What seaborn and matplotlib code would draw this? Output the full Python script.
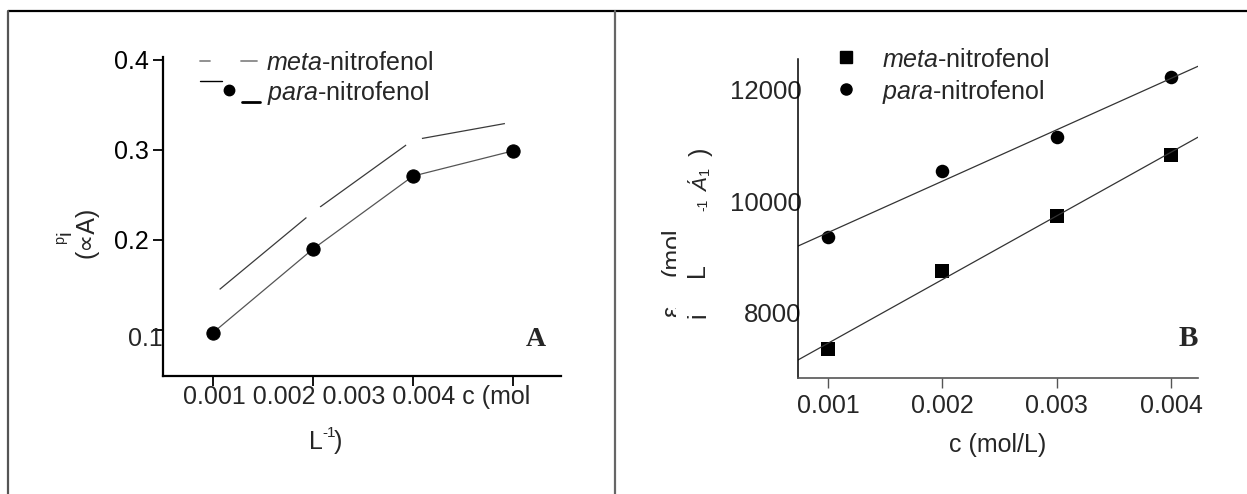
import numpy as np
import pandas as pd
import matplotlib
matplotlib.use("Agg")
import matplotlib.pyplot as plt
import seaborn as sns
from matplotlib.lines import Line2D
from matplotlib.transforms import ScaledTranslation, Bbox, TransformedBbox

# Panel A: peak current vs concentration
conc_a = [0.001, 0.002, 0.003, 0.004]
ip_meta = [0.139, 0.231, 0.311, 0.331]
ip_para = [0.097, 0.190, 0.271, 0.299]
yticks_a = [0.1, 0.2, 0.3, 0.4]
xrow_a = "0.001 0.002 0.003 0.004 c (mol"

# Panel B: molar absorptivity vs concentration
conc_b = [0.001, 0.002, 0.003, 0.004]
eps_meta = [7357, 8750, 9732, 10821]
eps_para = [9357, 10536, 11143, 12214]
yticks_b = [8000, 10000, 12000]
xticks_b = ["0.001", "0.002", "0.003", "0.004"]

W, H, DPI = 1247, 494, 100
FS = 18

sns.set_theme(style="white")
plt.rcParams["font.family"] = ["Liberation Sans", "DejaVu Sans"]
plt.rcParams["mathtext.fontset"] = "custom"
plt.rcParams["mathtext.rm"] = "Liberation Sans"
plt.rcParams["mathtext.it"] = "Liberation Sans:italic"
plt.rcParams["mathtext.bf"] = "Liberation Sans:bold"

fig = plt.figure(figsize=(W / DPI, H / DPI), dpi=DPI)
fig.patch.set_facecolor("white")


def fx(px):
    return px / W


def fy(py):
    return 1 - py / H


def box(l, t, r, b):
    return [fx(l), fy(b), fx(r) - fx(l), fy(t) - fy(b)]


def fline(xs, ys, **kw):
    fig.add_artist(Line2D([fx(v) for v in xs], [fy(v) for v in ys],
                          transform=fig.transFigure, **kw))


def ftext(x, y, s, **kw):
    return fig.text(fx(x), fy(y), s, **kw)


# table-like frame around the two panels
fline([8, W], [11, 11], color="black", lw=1.6, solid_capstyle="butt")
fline([8, 8], [11, H], color="#555555", lw=1.6)
fline([615, 615], [11, H], color="#666666", lw=1.6)

ax_a = fig.add_axes(box(163, 57, 561, 376))
ax_b = fig.add_axes(box(798, 59, 1198, 378))
for ax in (ax_a, ax_b):
    ax.set_facecolor("none")

# ---------------- Panel A ----------------
df_a = pd.DataFrame({"c": conc_a, "meta": ip_meta, "para": ip_para})
sns.lineplot(data=df_a, x="c", y="meta", ax=ax_a, color="#3a3a3a", lw=0.9,
             marker="o", markersize=12.5, markerfacecolor="white",
             markeredgecolor="white", markeredgewidth=0)
sns.lineplot(data=df_a, x="c", y="para", ax=ax_a, color="#555555", lw=0.9,
             marker="o", markersize=9.5, markerfacecolor="black",
             markeredgecolor="black", markeredgewidth=0.8)

ax_a.set_xlim(0.0005, 0.00448)
ax_a.set_ylim(0.0489, 0.4033)
ax_a.set_xticks(conc_a)
ax_a.set_xticklabels([])
ax_a.set_yticks(yticks_a)
ax_a.set_yticklabels(["" if v == 0.1 else f"{v:.1f}" for v in yticks_a])
ax_a.tick_params(axis="both", direction="out", length=7, width=1.3,
                 color="black", labelsize=FS, pad=3, labelcolor="black",
                 left=True, bottom=True)
ax_a.set_xlabel("")
ax_a.set_ylabel("")
for side in ("top", "right"):
    ax_a.spines[side].set_visible(False)
for side in ("left", "bottom"):
    ax_a.spines[side].set_color("black")
    ax_a.spines[side].set_linewidth(1.6)

# the 0.1 label sits lower and overlaps its tick
ax_a.text(0, 0.1, "0.1", fontsize=FS, ha="right", va="center",
          transform=ax_a.get_yaxis_transform()
          + ScaledTranslation(0, -9 / DPI, fig.dpi_scale_trans))

# x label row and unit line
ftext(183, 397, xrow_a, fontsize=FS, ha="left", va="center")
ftext(323, 442, "L", fontsize=FS, ha="right", va="center")
ftext(322, 433, "-1", fontsize=11, ha="left", va="center")
ftext(334, 442, ")", fontsize=FS, ha="left", va="center")

# y label fragments
ftext(87, 232, "(\u221dA)", fontsize=FS, rotation=90, ha="center", va="center")
ftext(67, 238, r"$^{\mathregular{p}}$i", fontsize=15, rotation=90, ha="center", va="center")

# key for panel A
fline([200, 210], [61, 61], color="#888888", lw=1.3)
fline([241, 257], [61, 61], color="#888888", lw=1.3)
ftext(266, 70, r"$\mathit{meta}$-nitrofenol", fontsize=FS, ha="left", va="baseline")
fline([200, 222], [81, 81], color="black", lw=1.0)
fig.add_artist(Line2D([fx(229)], [fy(90)], transform=fig.transFigure,
                      marker="o", markersize=7.5, color="black", ls=""))
fline([242, 260], [102, 102], color="black", lw=2.0)
ftext(267, 100, r"$\mathit{para}$-nitrofenol", fontsize=FS, ha="left", va="baseline")

ftext(536, 340, "A", fontsize=20, fontweight="bold", family="Liberation Serif",
      ha="center", va="center")

# ---------------- Panel B ----------------
df_b = pd.DataFrame({"c": conc_b, "meta": eps_meta, "para": eps_para})
ax_b.set_xlim(0.000738, 0.004236)
ax_b.set_ylim(6839, 12536)
sns.regplot(data=df_b, x="c", y="meta", ax=ax_b, ci=None, truncate=False,
            marker="s", scatter_kws=dict(s=88, color="black", linewidths=0, alpha=1),
            line_kws=dict(color="#333333", lw=0.9))
sns.regplot(data=df_b, x="c", y="para", ax=ax_b, ci=None, truncate=False,
            marker="o", scatter_kws=dict(s=95, color="black", linewidths=0, alpha=1),
            line_kws=dict(color="#333333", lw=0.9))
ax_b.set_xlim(0.000738, 0.004236)
ax_b.set_ylim(6839, 12536)
ax_b.set_xticks(conc_b)
ax_b.set_xticklabels(xticks_b)
ax_b.set_yticks(yticks_b)
ax_b.set_yticklabels([str(v) for v in yticks_b])
ax_b.tick_params(axis="x", direction="out", length=7, width=1.0, color="#555555",
                 labelsize=FS, pad=4.5, bottom=True)
ax_b.tick_params(axis="y", length=0, labelsize=18.5, pad=-2.5)
ax_b.set_xlabel("")
ax_b.set_ylabel("")
for side in ("top", "right"):
    ax_b.spines[side].set_visible(False)
ax_b.spines["left"].set_color("black")
ax_b.spines["left"].set_linewidth(1.1)
ax_b.spines["bottom"].set_color("#555555")
ax_b.spines["bottom"].set_linewidth(1.2)
ax_b.set_zorder(1)

ftext(998, 445, "c (mol/L)", fontsize=FS, ha="center", va="center")

# key for panel B
fig.add_artist(Line2D([fx(846)], [fy(57)], transform=fig.transFigure,
                      marker="s", markersize=8, color="black", ls=""))
fig.add_artist(Line2D([fx(846)], [fy(89)], transform=fig.transFigure,
                      marker="o", markersize=8, color="black", ls=""))
ftext(882, 67, r"$\mathit{meta}$-nitrofenol", fontsize=FS, ha="left", va="baseline")
ftext(882, 99, r"$\mathit{para}$-nitrofenol", fontsize=FS, ha="left", va="baseline")

ftext(1188, 338, "B", fontsize=21, fontweight="bold", family="Liberation Serif",
      ha="center", va="center")

# y label pieces for panel B (first line partly hidden)
clip = TransformedBbox(Bbox([[fx(600), 0], [fx(676), 1]]), fig.transFigure)
for s, yy in (("\u03b5", 311), ("(mol", 252)):
    t = ftext(672, yy, s, fontsize=FS, rotation=90, ha="center", va="center")
    t.set_clip_on(True)
    t.set_clip_box(clip)
ftext(698, 315, "i", fontsize=FS, rotation=90, ha="center", va="center")
ftext(697, 270, "L", fontsize=FS, rotation=90, ha="center", va="center")
ftext(703, 205, "-1", fontsize=10, rotation=90, ha="center", va="center")
ftext(700, 180, r"$\mathit{\acute{A}}_{1}$", fontsize=15, rotation=90, ha="center", va="center")
ftext(701, 152, ")", fontsize=FS, rotation=90, ha="center", va="center")

fig.savefig("out.png", dpi=DPI, facecolor="white")
